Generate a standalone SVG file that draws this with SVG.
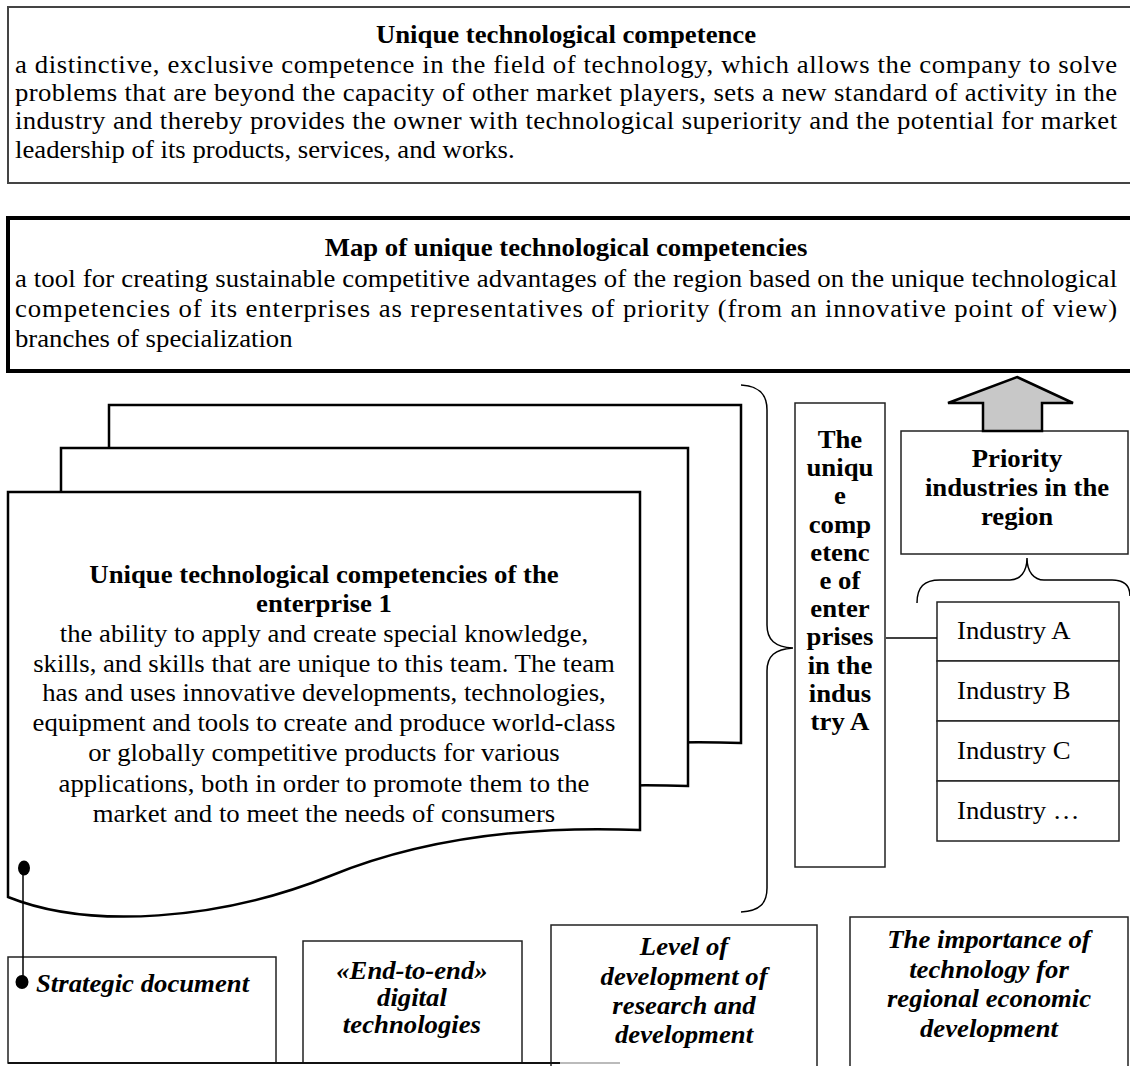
<svg xmlns="http://www.w3.org/2000/svg" width="1130" height="1066" viewBox="0 0 1130 1066">
<style>
.t{font-family:'Liberation Serif','Times New Roman',serif;font-size:25px;fill:#000}
.b{font-weight:bold}
.i{font-style:italic}
.c{text-anchor:middle}
.box{fill:#fff;stroke:#222;stroke-width:1.5}
.page{fill:#fff;stroke:#000;stroke-width:2.5}
.ln{fill:none;stroke:#000;stroke-width:1.5}
</style>
<rect width="1130" height="1066" fill="#fff"/>

<g id="def-competence">
<rect x="8" y="7" width="1140" height="176" fill="#fff" stroke="#444" stroke-width="2"/>
<g transform="scale(1.07 1)" class="t">
<text class="b c" x="529" y="43">Unique technological competence</text>
<text x="14" y="73" textLength="1030">a distinctive, exclusive competence in the field of technology, which allows the company to solve</text>
<text x="14" y="101" textLength="1030">problems that are beyond the capacity of other market players, sets a new standard of activity in the</text>
<text x="14" y="129" textLength="1030">industry and thereby provides the owner with technological superiority and the potential for market</text>
<text x="14" y="158">leadership of its products, services, and works.</text>
</g>
</g>

<g id="map">
<rect x="8" y="218" width="1140" height="153" fill="#fff" stroke="#000" stroke-width="4"/>
<g transform="scale(1.07 1)" class="t">
<text class="b c" x="529" y="256">Map of unique technological competencies</text>
<text x="14" y="287" textLength="1030">a tool for creating sustainable competitive advantages of the region based on the unique technological</text>
<text x="14" y="317" textLength="1030">competencies of its enterprises as representatives of priority (from an innovative point of view)</text>
<text x="14" y="347">branches of specialization</text>
</g>
</g>

<g id="enterprise-pages">
<path class="page" d="M109,405 H741 V743 C641,739 531,748 431,789 C321,833 191,843 109,810 Z"/>
<path class="page" d="M61,448 H688 V786 C588,782 478,791 378,832 C268,876 138,886 61,853 Z"/>
<path class="page" d="M8,492 H640 V830 C540,826 430,835 330,876 C220,920 90,930 8,897 Z"/>
<g transform="scale(1.07 1)" class="t c">
<text class="b" x="302.8" y="583">Unique technological competencies of the</text>
<text class="b" x="302.8" y="612">enterprise 1</text>
<text x="302.8" y="642">the ability to apply and create special knowledge,</text>
<text x="302.8" y="672">skills, and skills that are unique to this team. The team</text>
<text x="302.8" y="701">has and uses innovative developments, technologies,</text>
<text x="302.8" y="731">equipment and tools to create and produce world-class</text>
<text x="302.8" y="761">or globally competitive products for various</text>
<text x="302.8" y="792">applications, both in order to promote them to the</text>
<text x="302.8" y="822">market and to meet the needs of consumers</text>
</g>
</g>

<g id="industry-competence">
<rect class="box" x="795" y="403" width="90" height="464"/>
<g transform="scale(1.07 1)" class="t b c">
<text x="785" y="448">The</text>
<text x="785" y="476">uniqu</text>
<text x="785" y="504">e</text>
<text x="785" y="533">comp</text>
<text x="785" y="561">etenc</text>
<text x="785" y="589">e of</text>
<text x="785" y="617">enter</text>
<text x="785" y="645">prises</text>
<text x="785" y="674">in the</text>
<text x="785" y="702">indus</text>
<text x="785" y="730">try A</text>
</g>
</g>

<g id="priority-industries">
<rect class="box" x="901" y="431" width="227" height="123"/>
<g transform="scale(1.07 1)" class="t b c">
<text x="950.5" y="467">Priority</text>
<text x="950.5" y="496">industries in the</text>
<text x="950.5" y="525">region</text>
</g>
</g>

<g id="industries">
<rect class="box" x="937" y="602" width="182" height="59"/>
<rect class="box" x="937" y="661" width="182" height="60"/>
<rect class="box" x="937" y="721" width="182" height="60"/>
<rect class="box" x="937" y="781" width="182" height="60"/>
<g transform="scale(1.07 1)" class="t">
<text x="894.4" y="639">Industry A</text>
<text x="894.4" y="699">Industry B</text>
<text x="894.4" y="759">Industry C</text>
<text x="894.4" y="819">Industry …</text>
</g>
</g>

<g id="strategic-document">
<rect class="box" x="8" y="957" width="268" height="106"/>
<g transform="scale(1.07 1)" class="t b i"><text x="33.6" y="992">Strategic document</text></g>
</g>
<g id="digital-technologies">
<rect class="box" x="303" y="941" width="219" height="122"/>
<g transform="scale(1.07 1)" class="t b i c">
<text x="385" y="979">«End-to-end»</text>
<text x="385" y="1006">digital</text>
<text x="385" y="1033">technologies</text>
</g>
</g>
<g id="research-level">
<rect class="box" x="551" y="925" width="266" height="150"/>
<g transform="scale(1.07 1)" class="t b i c">
<text x="639.3" y="955">Level of</text>
<text x="639.3" y="985">development of</text>
<text x="639.3" y="1014">research and</text>
<text x="639.3" y="1043">development</text>
</g>
</g>
<g id="technology-importance">
<rect class="box" x="850" y="917" width="278" height="160"/>
<g transform="scale(1.07 1)" class="t b i c">
<text x="924.3" y="948">The importance of</text>
<text x="924.3" y="978">technology for</text>
<text x="924.3" y="1007">regional economic</text>
<text x="924.3" y="1037">development</text>
</g>
</g>

<g id="connectors">
<path class="ln" d="M741,385 C760,386 767,395 767,410 L767,625 C767,640 775,647 793,648 C775,649 767,656 767,671 L767,888 C767,903 760,911 741,912"/>
<path class="ln" d="M917,603 C917,587 924,580 940,580 L1010,580 C1020,580 1027,572 1027,558 C1027,572 1034,580 1044,580 L1112,580 C1124,580 1130,586 1130,596"/>
<line class="ln" x1="886" y1="638" x2="937" y2="638"/>
<path d="M1017,377 L1073,403 H1042 V431 H983 V403 H948 Z" fill="#c8c8c8" stroke="#000" stroke-width="2.5" stroke-linejoin="miter"/>
<line x1="23" y1="868" x2="23" y2="982" stroke="#000" stroke-width="1.5"/>
<ellipse cx="24" cy="868" rx="6" ry="7.5" fill="#000"/>
<ellipse cx="22" cy="982" rx="6.5" ry="7" fill="#000"/>
<line x1="8" y1="1063" x2="560" y2="1063" stroke="#111" stroke-width="2"/>
<line x1="560" y1="1063" x2="620" y2="1063" stroke="#bbb" stroke-width="2"/>
</g>
</svg>
